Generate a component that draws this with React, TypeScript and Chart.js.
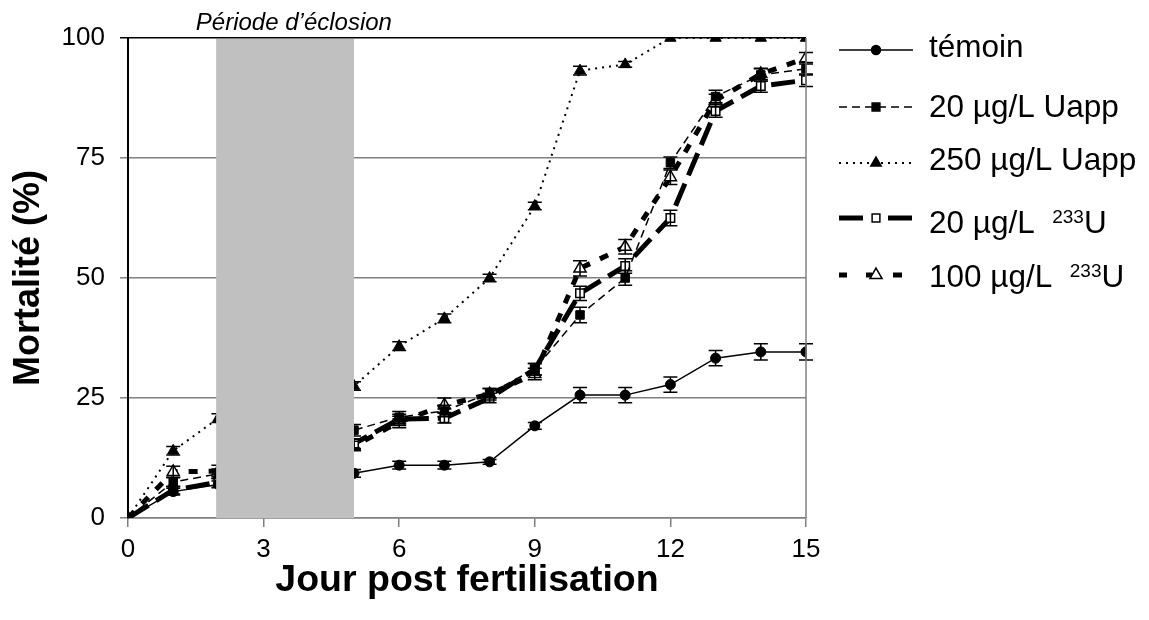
import React, { useEffect, useRef } from 'react';
import { Chart, registerables } from 'chart.js';

Chart.register(...registerables);

const FONT = "'Liberation Sans', Arial, Helvetica, sans-serif";

// ---- data ----
const days = [0, 1, 2, 3, 4, 5, 6, 7, 8, 9, 10, 11, 12, 13, 14, 15];
const seriesLabels = ['témoin', '20 µg/L Uapp', '250 µg/L Uapp', '20 µg/L  ^233^U', '100 µg/L  ^233^U'];

const temoin = [0, 5.5, 7.0, null, null, 9.3, 11.0, 11.0, 11.7, 19.2, 25.6, 25.6, 27.8, 33.3, 34.6, 34.6];
const temoinErr = [0, 0.7, 0.7, null, null, 0.8, 0.8, 0.8, 0.5, 0.7, 1.6, 1.6, 1.6, 1.6, 1.7, 1.7];

const uapp20 = [0, 7.5, 9.2, null, null, 18.3, 21.0, 22.3, 26.0, 31.0, 42.3, 50.0, 74.0, 87.8, 92.3, 93.6];
const uapp20Err = [0, 1.0, 1.0, null, null, 1.2, 1.2, 1.2, 1.0, 1.2, 1.6, 1.5, 1.2, 1.3, 1.3, 1.3];

const uapp250 = [0, 14.0, 20.8, null, null, 27.5, 35.8, 41.6, 50.0, 65.0, 93.2, 94.5, 100, 100, 100, 100];
const uapp250Err = [0, 0.9, 0.9, null, null, 0.9, 0.9, 0.9, 0.8, 0.8, 0.9, 0.6, 0, 0, 0, 0];

const u233_20 = [0, 5.8, 7.5, null, null, 15.5, 20.6, 20.8, 25.0, 31.0, 46.8, 52.5, 62.5, 84.8, 90.0, 91.2];
const u233_20Err = [0, 0.8, 0.8, null, null, 1.0, 1.0, 1.0, 1.0, 1.2, 1.5, 1.5, 1.6, 1.3, 1.3, 1.3];

const u233_100 = [0, 9.6, 9.8, null, null, 15.0, 20.0, 23.5, 25.8, 30.0, 52.0, 56.5, 71.0, 87.0, 92.5, 95.8];
const u233_100Err = [0, 1.2, 1.2, null, null, 1.0, 1.2, 1.5, 1.2, 1.2, 1.6, 1.5, 1.5, 1.3, 1.2, 1.2];

const xTicks = [0, 3, 6, 9, 12, 15];
const yTicks = [0, 25, 50, 75, 100];
const hatchStart = 1.95;
const hatchEnd = 5;
const hatchLabel = 'Période d\u2019éclosion';
const xTitle = 'Jour post fertilisation';
const yTitle = 'Mortalité (%)';

const toPts = (arr: (number | null)[]) => days.map((d, i) => ({ x: d, y: arr[i] }));

function drawMarker(ctx: CanvasRenderingContext2D, style: string, x: number, y: number, r: number, fill: string) {
  ctx.save();
  ctx.setLineDash([]);
  ctx.lineWidth = 1.5;
  ctx.strokeStyle = '#000';
  ctx.fillStyle = fill;
  ctx.beginPath();
  if (style === 'circle') {
    ctx.arc(x, y, r, 0, Math.PI * 2);
  } else if (style === 'rect') {
    const s = Math.SQRT1_2 * r;
    ctx.rect(x - s, y - s, 2 * s, 2 * s);
  } else {
    ctx.moveTo(x, y - r);
    ctx.lineTo(x + r * Math.sin(Math.PI / 3), y + r * 0.5);
    ctx.lineTo(x - r * Math.sin(Math.PI / 3), y + r * 0.5);
    ctx.closePath();
  }
  ctx.fill();
  ctx.stroke();
  ctx.restore();
}

const overlayPlugin = {
  id: 'overlay',
  afterDatasetsDraw(chart: any) {
    const { ctx, chartArea, scales } = chart;
    const xs = scales.x;
    const ys = scales.y;
    // error bars
    ctx.save();
    ctx.strokeStyle = '#000';
    ctx.lineWidth = 1.5;
    ctx.setLineDash([]);
    chart.data.datasets.forEach((ds: any) => {
      const errs = ds.errors as (number | null)[];
      ds.data.forEach((p: any, i: number) => {
        const e = errs[i];
        if (p.y == null || !e) return;
        const px = xs.getPixelForValue(p.x);
        const t = ys.getPixelForValue(p.y + e);
        const b = ys.getPixelForValue(p.y - e);
        ctx.beginPath();
        ctx.moveTo(px, t);
        ctx.lineTo(px, b);
        ctx.moveTo(px - 7, t);
        ctx.lineTo(px + 7, t);
        ctx.moveTo(px - 7, b);
        ctx.lineTo(px + 7, b);
        ctx.stroke();
      });
    });
    // hatching period band
    const bx0 = xs.getPixelForValue(hatchStart);
    const bx1 = xs.getPixelForValue(hatchEnd);
    ctx.fillStyle = '#c0c0c0';
    ctx.fillRect(bx0, chartArea.top + 1, bx1 - bx0, chartArea.bottom - chartArea.top - 1);
    // right border
    ctx.strokeStyle = '#808080';
    ctx.lineWidth = 1.5;
    ctx.beginPath();
    ctx.moveTo(chartArea.right, chartArea.top);
    ctx.lineTo(chartArea.right, chartArea.bottom);
    ctx.stroke();
    // band label
    ctx.fillStyle = '#000';
    ctx.font = `italic 24px ${FONT}`;
    ctx.textAlign = 'center';
    ctx.textBaseline = 'alphabetic';
    ctx.fillText(hatchLabel, xs.getPixelForValue(3.67), chartArea.top - 8);
    ctx.restore();
  },
  afterDraw(chart: any) {
    const { ctx, chartArea } = chart;
    const x0 = chartArea.right + 33;
    const x1 = x0 + 74;
    const mx = x0 + 37;
    const tx = x0 + 90;
    const lineYs = [50, 107, 163, 218, 275];
    const baseYs = [57, 117, 170, 233, 287];
    ctx.save();
    chart.data.datasets.forEach((ds: any, i: number) => {
      const ly = lineYs[i];
      ctx.strokeStyle = '#000';
      ctx.lineWidth = ds.borderWidth;
      ctx.setLineDash(ds.borderDash || []);
      ctx.lineCap = 'butt';
      const segs: number[][] = ds.legendSegs || [[x0, x1]];
      segs.forEach((s) => {
        ctx.beginPath();
        ctx.moveTo(s[0], ly);
        ctx.lineTo(s[1], ly);
        ctx.stroke();
      });
      ctx.setLineDash([]);
      drawMarker(ctx, ds.pointStyle, mx, ly, ds.legendR, ds.pointBackgroundColor);
      // text
      const parts = (seriesLabels[i] as string).split('^');
      let cx = tx;
      ctx.fillStyle = '#000';
      ctx.textAlign = 'left';
      ctx.textBaseline = 'alphabetic';
      parts.forEach((p, k) => {
        const sup = k % 2 === 1;
        ctx.font = sup ? `19px ${FONT}` : `31.5px ${FONT}`;
        ctx.fillText(p, cx, sup ? baseYs[i] - 10 : baseYs[i]);
        cx += ctx.measureText(p).width;
      });
    });
    ctx.restore();
  },
};

export default function App() {
  const ref = useRef<HTMLCanvasElement>(null);
  useEffect(() => {
    if (!ref.current) return;
    const chart = new Chart(ref.current, {
      type: 'line',
      data: {
        datasets: [
          {
            label: seriesLabels[0], data: toPts(temoin), errors: temoinErr,
            borderColor: '#000', borderWidth: 1.5, borderDash: [],
            pointStyle: 'circle', pointRadius: 5, pointBackgroundColor: '#000', pointBorderColor: '#000', pointBorderWidth: 1,
            legendR: 4.5, spanGaps: true,
          },
          {
            label: seriesLabels[1], data: toPts(uapp20), errors: uapp20Err,
            borderColor: '#000', borderWidth: 1.5, borderDash: [8, 5],
            pointStyle: 'rect', pointRadius: 6, pointBackgroundColor: '#000', pointBorderColor: '#000', pointBorderWidth: 1,
            legendR: 5.5, spanGaps: true,
          },
          {
            label: seriesLabels[2], data: toPts(uapp250), errors: uapp250Err,
            borderColor: '#000', borderWidth: 2, borderDash: [2, 5],
            pointStyle: 'triangle', pointRadius: 6.5, pointBackgroundColor: '#000', pointBorderColor: '#000', pointBorderWidth: 1,
            legendR: 6, spanGaps: true,
          },
          {
            label: seriesLabels[3], data: toPts(u233_20), errors: u233_20Err,
            borderColor: '#000', borderWidth: 5, borderDash: [24, 9],
            pointStyle: 'rect', pointRadius: 6, pointBackgroundColor: '#fff', pointBorderColor: '#000', pointBorderWidth: 1.5,
            legendR: 5.5, spanGaps: true,
            legendSegs: [[839, 871], [888, 913]],
          },
          {
            label: seriesLabels[4], data: toPts(u233_100), errors: u233_100Err,
            borderColor: '#000', borderWidth: 5, borderDash: [9, 11],
            pointStyle: 'triangle', pointRadius: 7, pointBackgroundColor: '#fff', pointBorderColor: '#000', pointBorderWidth: 1.5,
            legendR: 7, spanGaps: true,
            legendSegs: [[839, 847], [866, 872], [893, 902]],
          },
        ] as any,
      },
      options: {
        animation: false,
        responsive: false,
        layout: { padding: { top: 38, right: 343, left: 0, bottom: 0 } },
        plugins: { legend: { display: false }, tooltip: { enabled: false } },
        elements: { line: { tension: 0 } },
        scales: {
          x: {
            type: 'linear', min: 0, max: 15,
            afterBuildTicks: (s: any) => { s.ticks = xTicks.map((v) => ({ value: v })); },
            afterFit: (s: any) => { s.height = 102; },
            ticks: { color: '#000', font: { size: 26, family: FONT }, padding: 7, maxRotation: 0 },
            grid: { drawOnChartArea: false, drawTicks: true, tickLength: 9, color: '#808080', lineWidth: 1.5 },
            border: { color: '#808080', width: 1.5 },
            title: { display: true, text: xTitle, color: '#000', font: { size: 37.5, weight: 'bold', family: FONT }, padding: { top: 0, bottom: 17 } },
          },
          y: {
            type: 'linear', min: 0, max: 100,
            afterBuildTicks: (s: any) => { s.ticks = yTicks.map((v) => ({ value: v })); },
            afterFit: (s: any) => { s.width = 128; },
            ticks: { color: '#000', font: { size: 26, family: FONT }, padding: 15 },
            grid: {
              drawTicks: true, tickLength: 8, lineWidth: 1.5,
              color: (c: any) => (c.tick && c.tick.value === 100 ? '#000' : '#808080'),
            },
            border: { color: '#000', width: 2 },
            title: { display: true, text: yTitle, color: '#000', font: { size: 36, weight: 'bold', family: FONT }, padding: { top: 7, bottom: 0 } },
          },
        },
      } as any,
      plugins: [overlayPlugin],
    });
    return () => chart.destroy();
  }, []);
  return (
    <div style={{ position: 'fixed', left: 0, top: 0, width: 1149, height: 620, background: '#fff' }}>
      <canvas ref={ref} width={1149} height={620} style={{ display: 'block' }} />
    </div>
  );
}
